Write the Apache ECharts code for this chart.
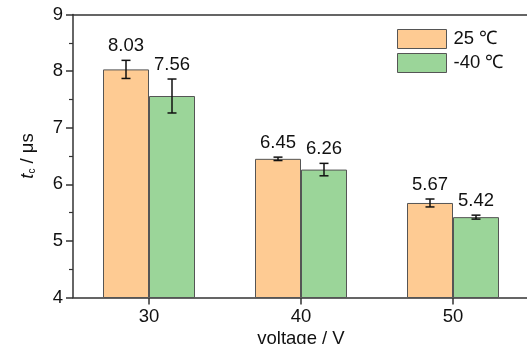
<!DOCTYPE html>
<html>
<head>
<meta charset="utf-8">
<script src="https://cdn.jsdelivr.net/npm/echarts@6/dist/echarts.min.js"></script>
<style>html,body{margin:0;padding:0;background:#fff}#c{width:527px;height:344px}</style>
</head>
<body>
<div id="c"></div>
<script>
var categories = ['30', '40', '50'];
var seriesNames = ['25 ℃', '-40 ℃'];
var values25 = [8.03, 6.45, 5.67];
var valuesM40 = [7.56, 6.26, 5.42];
var err25 = [0.16, 0.03, 0.07];
var errM40 = [0.30, 0.11, 0.035];
var yTicks = [4, 5, 6, 7, 8, 9];

var FONT = '"Liberation Sans", Arial, sans-serif';
var FS = 18.5;
var BAR_W = 46;

function errData(vals, errs) {
  return vals.map(function (v, i) { return [i, v, errs[i]]; });
}

function makeErr(offset) {
  return function (params, api) {
    var idx = api.value(0), v = api.value(1), e = api.value(2);
    var c = api.coord([idx, v]);
    var x = c[0] + offset;
    var top = api.coord([idx, v + e])[1];
    var bot = api.coord([idx, v - e])[1];
    var hw = 4.5;
    var st = { stroke: '#111', lineWidth: 1.5 };
    return {
      type: 'group',
      children: [
        { type: 'line', shape: { x1: x, y1: top, x2: x, y2: bot }, style: st },
        { type: 'line', shape: { x1: x - hw, y1: top, x2: x + hw, y2: top }, style: st },
        { type: 'line', shape: { x1: x - hw, y1: bot, x2: x + hw, y2: bot }, style: st },
        { type: 'text', x: x, y: top - 14.5, style: {
            text: v.toFixed(2), fill: '#111', font: FS + 'px ' + FONT,
            align: 'center', verticalAlign: 'middle' } }
      ]
    };
  };
}

var chart = echarts.init(document.getElementById('c'), null, { renderer: 'canvas' });
chart.setOption({
  animation: false,
  backgroundColor: '#fff',
  textStyle: { fontFamily: FONT },
  grid: { left: 73, top: 14.5, width: 456, height: 283, outerBoundsMode: 'none', containLabel: false },
  legend: {
    orient: 'vertical', left: 397, top: 29, padding: 0,
    icon: 'rect',
    itemWidth: 49, itemHeight: 19, itemGap: 4,
    textStyle: { fontSize: FS, color: '#111', fontFamily: FONT, padding: [0, 0, 0, 2], lineHeight: 19 },
    data: seriesNames,
    itemStyle: { borderColor: '#555', borderWidth: 1 }
  },
  xAxis: [{
    type: 'category', data: categories, position: 'bottom',
    axisLine: { lineStyle: { color: '#333', width: 1.5 } },
    axisTick: { show: true, alignWithLabel: true, length: 7, lineStyle: { color: '#333', width: 1.5 } },
    axisLabel: { fontSize: FS, color: '#111', margin: 10, fontFamily: FONT },
    name: 'voltage / V', nameLocation: 'middle', nameGap: 31, nameMoveOverlap: false,
    nameTextStyle: { fontSize: FS, color: '#111', fontFamily: FONT, verticalAlign: 'top', lineHeight: 20 }
  }, {
    type: 'category', data: categories, position: 'top',
    axisLine: { lineStyle: { color: '#333', width: 1.5 } },
    axisTick: { show: false }, axisLabel: { show: false }
  }],
  yAxis: {
    type: 'value', min: yTicks[0], max: yTicks[yTicks.length - 1], interval: 1,
    axisLine: { show: true, lineStyle: { color: '#333', width: 1.5 } },
    axisTick: { show: true, length: 7, lineStyle: { color: '#333', width: 1.5 } },
    minorTick: { show: true, splitNumber: 2, length: 4, lineStyle: { color: '#333', width: 1.2 } },
    splitLine: { show: false },
    axisLabel: { fontSize: FS, color: '#111', margin: 10, fontFamily: FONT },
    name: '{i|t}{s|c}{n| / μs}', nameLocation: 'middle', nameGap: 36, nameRotate: 90, nameMoveOverlap: false,
    nameTextStyle: {
      color: '#111', fontFamily: FONT,
      rich: {
        i: { fontSize: FS, fontStyle: 'italic', fontFamily: FONT, color: '#111', verticalAlign: 'bottom', lineHeight: 20 },
        s: { fontSize: 10, fontFamily: FONT, color: '#111', verticalAlign: 'bottom', lineHeight: 15 },
        n: { fontSize: FS, fontFamily: FONT, color: '#111', verticalAlign: 'bottom', lineHeight: 20 }
      }
    }
  },
  series: [{
    name: seriesNames[0], type: 'bar', data: values25, barWidth: BAR_W, barGap: '0%',
    itemStyle: { color: '#FECB93', borderColor: '#555', borderWidth: 1 }
  }, {
    name: seriesNames[1], type: 'bar', data: valuesM40, barWidth: BAR_W, barGap: '0%',
    itemStyle: { color: '#9BD599', borderColor: '#555', borderWidth: 1 }
  }, {
    type: 'custom', renderItem: makeErr(-BAR_W / 2), data: errData(values25, err25), z: 10, silent: true
  }, {
    type: 'custom', renderItem: makeErr(BAR_W / 2), data: errData(valuesM40, errM40), z: 10, silent: true
  }]
});
</script>
</body>
</html>
